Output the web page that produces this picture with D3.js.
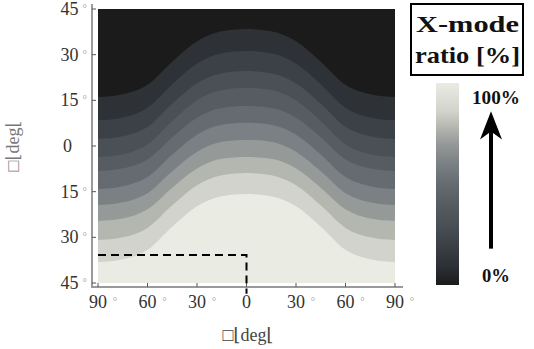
<!doctype html>
<html>
<head>
  <meta charset="utf-8">
  <title>X-mode ratio</title>
  <style>
  html, body { margin: 0; padding: 0; background: #fff; }
  #vis { width: 534px; height: 349px; }
  </style>
</head>
<body>
  <div id="vis"></div>
  <script src="https://d3js.org/d3.v7.min.js"></script>
  <script>
  var width = 534;
  var height = 349;
  var serif = '"Liberation Serif", "Times New Roman", "DejaVu Serif", serif';

  // azimuth samples [deg] and tick values
  var azimuths = [-90, -75, -60, -45, -30, -15, 0, 15, 30, 45, 60, 75, 90];
  var xTicks = [-90, -60, -30, 0, 30, 60, 90];
  var yTicks = [45, 30, 15, 0, -15, -30, -45];

  // elevation [deg] of each contour boundary (top to bottom)
  var boundaries = [
    [16.1, 17.0, 20.1, 27.7, 34.4, 37.7, 38.4, 37.7, 34.4, 27.7, 20.1, 17.0, 16.1],
    [8.5, 9.4, 12.6, 20.3, 27.1, 30.5, 31.2, 30.5, 27.1, 20.3, 12.6, 9.4, 8.5],
    [2.3, 3.2, 6.3, 13.9, 20.6, 23.9, 24.6, 23.9, 20.6, 13.9, 6.3, 3.2, 2.3],
    [-3.6, -2.7, 0.5, 8.2, 15.0, 18.4, 19.1, 18.4, 15.0, 8.2, 0.5, -2.7, -3.6],
    [-8.2, -7.3, -4.4, 2.9, 9.3, 12.5, 13.1, 12.5, 9.3, 2.9, -4.4, -7.3, -8.2],
    [-14.1, -13.2, -10.2, -2.8, 3.7, 7.0, 7.6, 7.0, 3.7, -2.8, -10.2, -13.2, -14.1],
    [-19.4, -18.5, -15.5, -8.3, -1.9, 1.4, 2.0, 1.4, -1.9, -8.3, -15.5, -18.5, -19.4],
    [-24.6, -23.8, -20.8, -13.7, -7.4, -4.2, -3.6, -4.2, -7.4, -13.7, -20.8, -23.8, -24.6],
    [-30.9, -30.0, -26.9, -19.5, -12.9, -9.6, -8.9, -9.6, -12.9, -19.5, -26.9, -30.0, -30.9],
    [-38.1, -37.2, -34.1, -26.5, -19.8, -16.5, -15.8, -16.5, -19.8, -26.5, -34.1, -37.2, -38.1]
  ];

  // band colours, from 0% (top) to 100% (bottom)
  var bandColors = ['#1b1b1b', '#2e3136', '#3c4047', '#495056', '#565c62', '#656b70',
                    '#7a8083', '#959998', '#b4b6b0', '#d2d3cd', '#eaebe3'];

  // colour bar stops (offset from 0% to 100%)
  var barOffsets = [0, 0.1, 0.2, 0.3, 0.4, 0.5, 0.6, 0.7, 0.78, 0.86, 1];

  // dashed guide line (azimuth, elevation)
  var guide = [[-90, -35.8], [0, -35.8], [0, -48.5]];

  var colorLabels = ['100%', '0%'];
  var colorLevels = [100, 0];

  var x = d3.scaleLinear().domain([-90, 90]).range([98, 395]);
  var y = d3.scaleLinear().domain([-45, 45]).range([283, 9]);

  var svg = d3.select('#vis').append('svg')
    .attr('width', width)
    .attr('height', height)
    .style('font-family', serif);

  // background band (lowest ratio)
  svg.append('rect')
    .attr('x', x(-90)).attr('y', y(45))
    .attr('width', x(90) - x(-90)).attr('height', y(-45) - y(45))
    .attr('fill', bandColors[0]);

  var area = d3.area()
    .x(function(d, i){ return x(azimuths[i]); })
    .y0(y(-45))
    .y1(function(d){ return y(d); })
    .curve(d3.curveMonotoneX);

  svg.selectAll('path.band').data(boundaries)
    .enter().append('path')
      .attr('class', 'band')
      .attr('d', area)
      .attr('fill', function(d, i){ return bandColors[i + 1]; });

  // dashed guide
  svg.append('path')
    .attr('d', d3.line().x(function(d){ return x(d[0]); }).y(function(d){ return y(d[1]); })(guide))
    .attr('fill', 'none')
    .attr('stroke', '#000')
    .attr('stroke-width', 2)
    .attr('stroke-dasharray', '8,5');

  // axes
  var axisColor = '#9a9a9a';
  var yAxisX = 92;
  var xAxisY = 287;

  svg.append('line')
    .attr('x1', yAxisX).attr('x2', yAxisX)
    .attr('y1', y(45) - 5).attr('y2', xAxisY)
    .attr('stroke', axisColor).attr('stroke-width', 2);
  svg.append('line')
    .attr('x1', yAxisX - 1).attr('x2', x(90) + 8)
    .attr('y1', xAxisY).attr('y2', xAxisY)
    .attr('stroke', axisColor).attr('stroke-width', 2);

  svg.selectAll('line.ytick').data(yTicks)
    .enter().append('line')
      .attr('class', 'ytick')
      .attr('x1', yAxisX).attr('x2', yAxisX + 4)
      .attr('y1', function(d){ return y(d); }).attr('y2', function(d){ return y(d); })
      .attr('stroke', '#555').attr('stroke-width', 1);

  svg.selectAll('line.xtick').data(xTicks)
    .enter().append('line')
      .attr('class', 'xtick')
      .attr('x1', function(d){ return x(d); }).attr('x2', function(d){ return x(d); })
      .attr('y1', xAxisY).attr('y2', xAxisY - 4)
      .attr('stroke', '#555').attr('stroke-width', 1);

  // y tick labels
  var yLab = svg.selectAll('text.ylab').data(yTicks)
    .enter().append('text')
      .attr('class', 'ylab')
      .attr('x', function(d){ return d === 0 ? 72 : 87; })
      .attr('y', function(d){ return y(d) + 6; })
      .attr('text-anchor', 'end')
      .attr('font-size', 18)
      .attr('fill', '#333');
  yLab.append('tspan').text(function(d){ return Math.abs(d); });
  yLab.filter(function(d){ return d !== 0; })
    .append('tspan')
      .attr('dx', 4).attr('dy', -3)
      .attr('font-size', 11).attr('fill', '#999')
      .text('°');

  // x tick labels
  var xLab = svg.selectAll('g.xlab').data(xTicks)
    .enter().append('g')
      .attr('class', 'xlab')
      .attr('transform', function(d){ return 'translate(' + x(d) + ',308)'; });
  xLab.append('text')
    .attr('text-anchor', 'middle')
    .attr('font-size', 18)
    .attr('fill', '#333')
    .text(function(d){ return Math.abs(d); });
  xLab.filter(function(d){ return d !== 0; })
    .append('text')
      .attr('x', 17).attr('y', -3)
      .attr('text-anchor', 'middle')
      .attr('font-size', 11).attr('fill', '#999')
      .text('°');

  // axis titles
  svg.append('text')
    .attr('transform', 'translate(19,146) rotate(-90)')
    .attr('text-anchor', 'middle')
    .attr('font-size', 18)
    .attr('fill', '#777')
    .text('□⌊deg⌊');
  svg.append('text')
    .attr('x', 248).attr('y', 341)
    .attr('text-anchor', 'middle')
    .attr('font-size', 18)
    .attr('fill', '#444')
    .text('□⌊deg⌊');

  // legend title box
  svg.append('rect')
    .attr('x', 411).attr('y', 4)
    .attr('width', 112).attr('height', 71)
    .attr('fill', '#fff').attr('stroke', '#000').attr('stroke-width', 2);
  svg.append('text')
    .attr('x', 416).attr('y', 32)
    .attr('font-size', 24).attr('font-weight', 'bold').attr('fill', '#111')
    .attr('textLength', 103).attr('lengthAdjust', 'spacingAndGlyphs')
    .text('X-mode');
  svg.append('text')
    .attr('x', 415).attr('y', 63)
    .attr('font-size', 24).attr('font-weight', 'bold').attr('fill', '#111')
    .attr('textLength', 105).attr('lengthAdjust', 'spacingAndGlyphs')
    .text('ratio [%]');

  // colour bar
  var c = d3.scaleLinear().domain([0, 100]).range([285, 83]);
  var grad = svg.append('defs').append('linearGradient')
    .attr('id', 'cbar')
    .attr('x1', 0).attr('y1', 1).attr('x2', 0).attr('y2', 0);
  grad.selectAll('stop').data(bandColors)
    .enter().append('stop')
      .attr('offset', function(d, i){ return barOffsets[i]; })
      .attr('stop-color', function(d){ return d; });
  svg.append('rect')
    .attr('x', 436).attr('y', c(100))
    .attr('width', 23).attr('height', c(0) - c(100))
    .attr('fill', 'url(#cbar)');

  svg.selectAll('text.clab').data(colorLevels)
    .enter().append('text')
      .attr('class', 'clab')
      .attr('x', 496)
      .attr('y', function(d){ return d === 100 ? c(d) + 21 : c(d) - 3; })
      .attr('text-anchor', 'middle')
      .attr('font-size', 18).attr('font-weight', 'bold').attr('fill', '#111')
      .attr('textLength', function(d){ return d === 100 ? 48 : 28; })
      .attr('lengthAdjust', 'spacingAndGlyphs')
      .text(function(d, i){ return colorLabels[i]; });

  // arrow 0% -> 100%
  var ax = 491;
  svg.append('line')
    .attr('x1', ax).attr('x2', ax)
    .attr('y1', c(18)).attr('y2', c(77))
    .attr('stroke', '#000').attr('stroke-width', 4);
  svg.append('path')
    .attr('d', 'M' + ax + ',' + c(86) + 'L' + (ax + 11) + ',' + c(72) +
               'L' + ax + ',' + c(76) + 'L' + (ax - 11) + ',' + c(72) + 'Z')
    .attr('fill', '#000');
  </script>
</body>
</html>
